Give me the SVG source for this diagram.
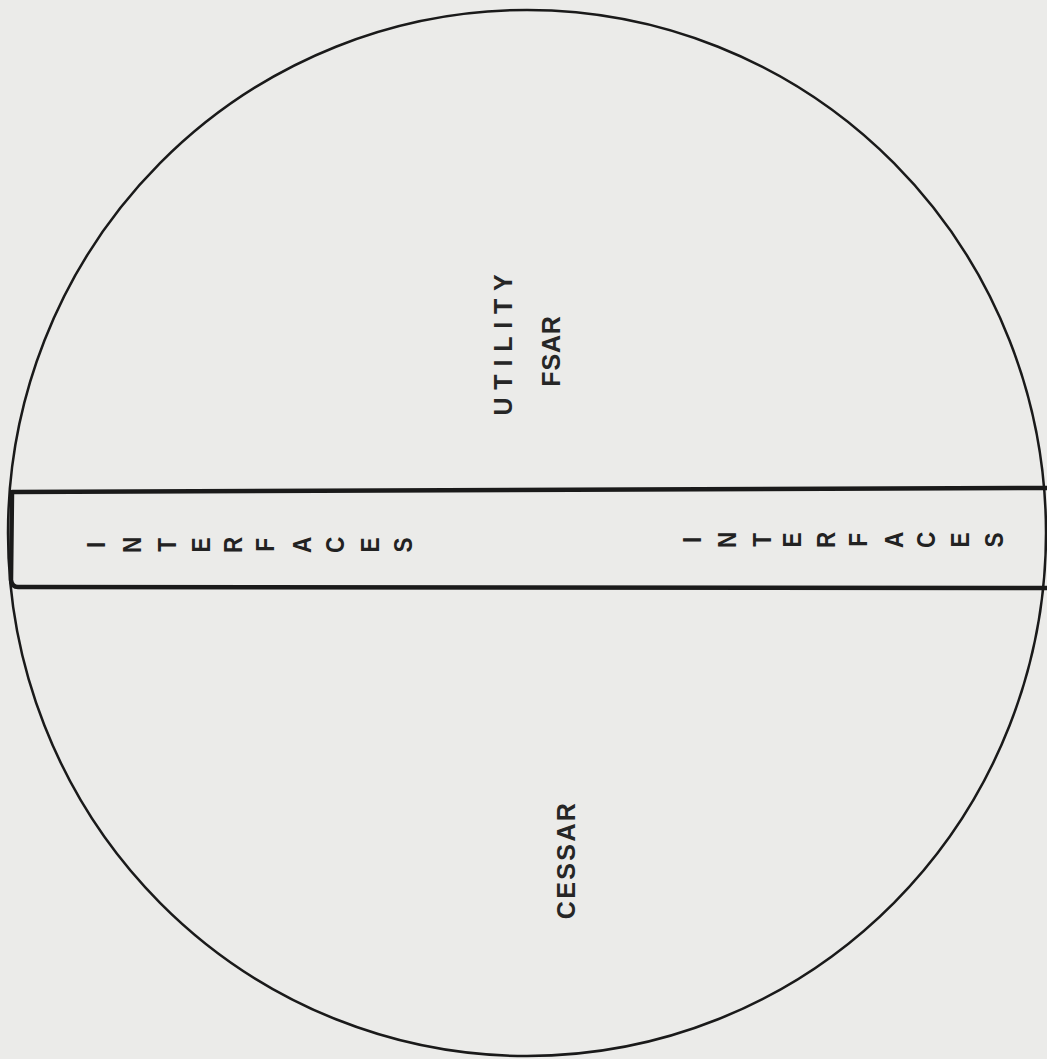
<svg xmlns="http://www.w3.org/2000/svg" width="1047" height="1059" viewBox="0 0 1047 1059">
  <style>
    .ln { fill: none; stroke: #1a1a1a; stroke-linecap: round; stroke-linejoin: round; }
    .lbl { font-family: "Liberation Sans", Arial, sans-serif; font-size: 25px; font-weight: bold; fill: #262626; text-anchor: middle; }
    .let { font-family: "Liberation Sans", Arial, sans-serif; font-size: 25px; font-weight: bold; fill: #222222; text-anchor: middle; }
  </style>
  <rect x="0" y="0" width="1047" height="1059" fill="#ebebe9"/>
  <g id="connectors">
    <ellipse class="ln" cx="527" cy="533" rx="519" ry="523" stroke-width="2.5"/>
    <path class="ln" d="M1047 488 L12 492 L11 580 Q12 587 18 587 L1047 588" stroke-width="4.5"/>
  </g>
  <g id="utility-fsar">
    <text class="lbl" transform="translate(512 341) rotate(-90)" letter-spacing="7.8">UTILITY</text>
    <text class="lbl" transform="translate(560 351) rotate(-90)" letter-spacing="0.8">FSAR</text>
  </g>
  <g id="cessar">
    <text class="lbl" transform="translate(575 860) rotate(-90)" letter-spacing="2.4">CESSAR</text>
  </g>
  <g id="interfaces-left">
    <text class="let" transform="translate(96 545) rotate(-90) scale(0.9 1)" y="9">I</text>
    <text class="let" transform="translate(132 545) rotate(-90) scale(0.9 1)" y="9">N</text>
    <text class="let" transform="translate(167 545) rotate(-90) scale(0.9 1)" y="9">T</text>
    <text class="let" transform="translate(201 545) rotate(-90) scale(0.9 1)" y="9">E</text>
    <text class="let" transform="translate(233 545) rotate(-90) scale(0.9 1)" y="9">R</text>
    <text class="let" transform="translate(265 545) rotate(-90) scale(0.9 1)" y="9">F</text>
    <text class="let" transform="translate(302 545) rotate(-90) scale(0.9 1)" y="9">A</text>
    <text class="let" transform="translate(335 545) rotate(-90) scale(0.9 1)" y="9">C</text>
    <text class="let" transform="translate(370 545) rotate(-90) scale(0.9 1)" y="9">E</text>
    <text class="let" transform="translate(403 545) rotate(-90) scale(0.9 1)" y="9">S</text>
  </g>
  <g id="interfaces-right">
    <text class="let" transform="translate(692 540) rotate(-90) scale(0.9 1)" y="9">I</text>
    <text class="let" transform="translate(727 540) rotate(-90) scale(0.9 1)" y="9">N</text>
    <text class="let" transform="translate(762 540) rotate(-90) scale(0.9 1)" y="9">T</text>
    <text class="let" transform="translate(792 540) rotate(-90) scale(0.9 1)" y="9">E</text>
    <text class="let" transform="translate(826 540) rotate(-90) scale(0.9 1)" y="9">R</text>
    <text class="let" transform="translate(858 540) rotate(-90) scale(0.9 1)" y="9">F</text>
    <text class="let" transform="translate(894 540) rotate(-90) scale(0.9 1)" y="9">A</text>
    <text class="let" transform="translate(926 540) rotate(-90) scale(0.9 1)" y="9">C</text>
    <text class="let" transform="translate(960 540) rotate(-90) scale(0.9 1)" y="9">E</text>
    <text class="let" transform="translate(994 540) rotate(-90) scale(0.9 1)" y="9">S</text>
  </g>
</svg>
